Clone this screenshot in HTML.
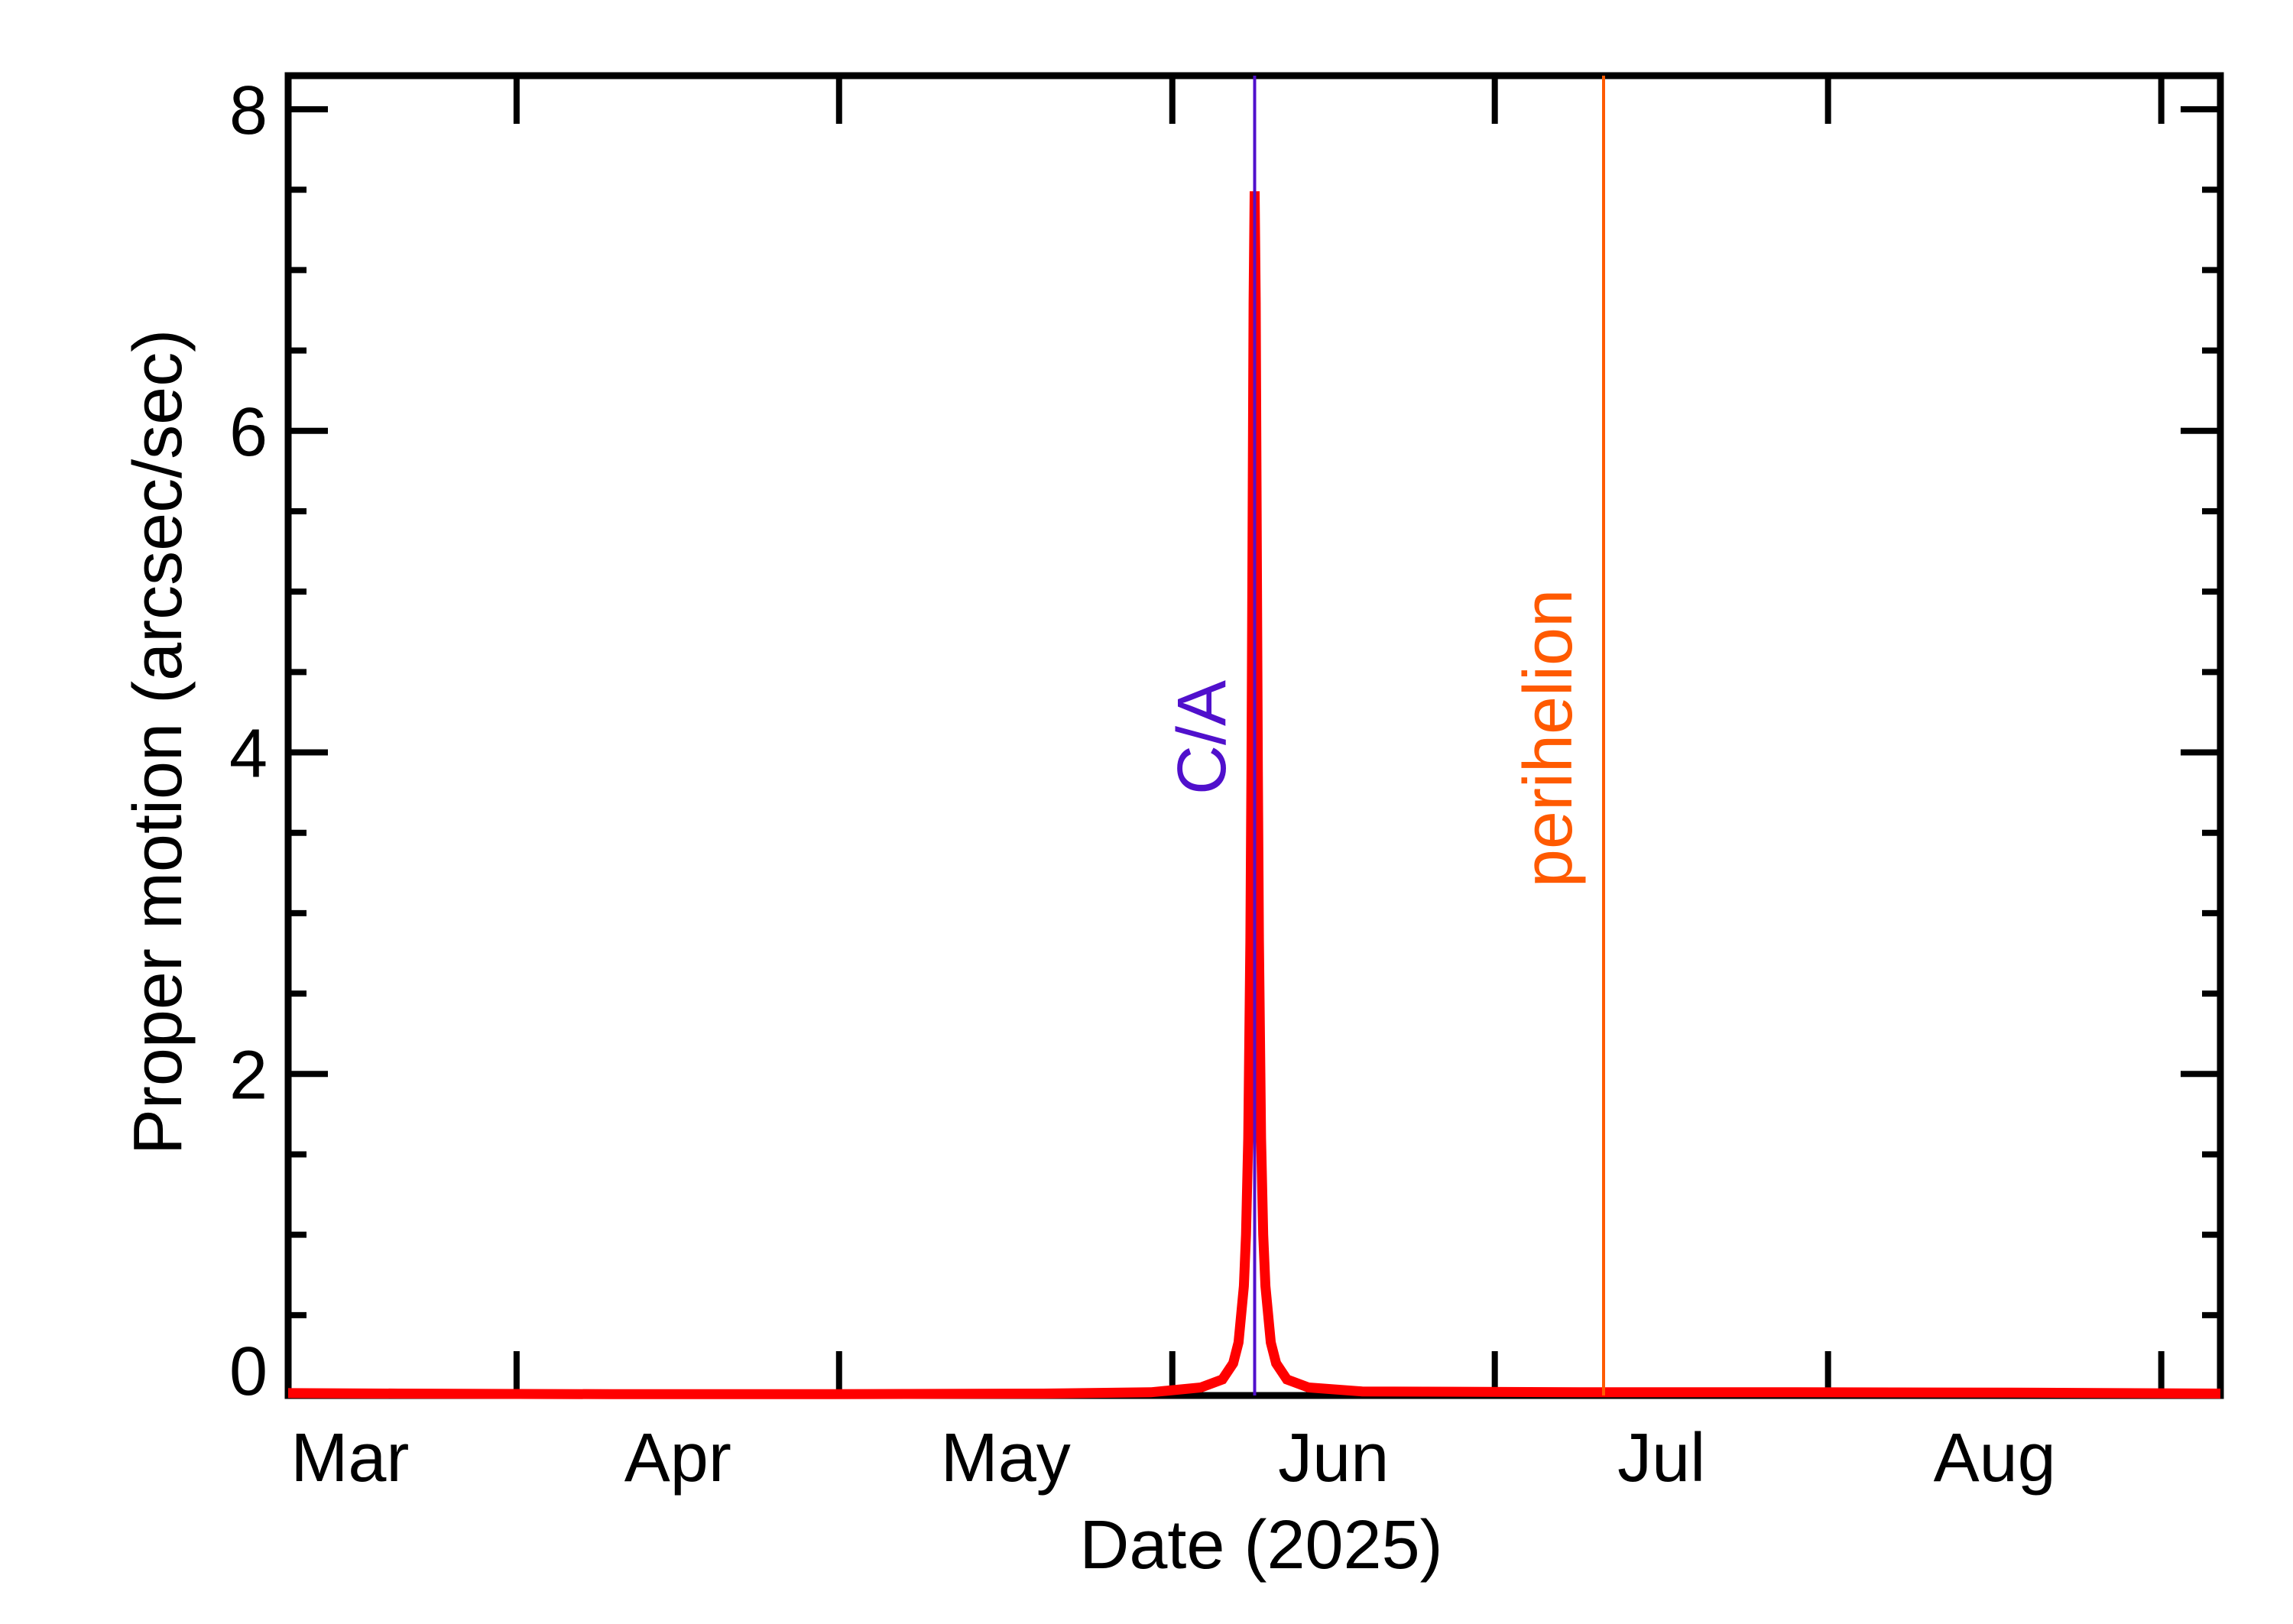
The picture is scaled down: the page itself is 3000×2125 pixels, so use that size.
<!DOCTYPE html>
<html><head><meta charset="utf-8"><style>
html,body{margin:0;padding:0;background:#fff;}
svg{display:block;font-family:"Liberation Sans",sans-serif;}
</style></head><body>
<svg id="chart" width="3000" height="2125" viewBox="0 0 3000 2125" xmlns="http://www.w3.org/2000/svg">
<rect width="3000" height="2125" fill="#fff"/>
<g id="axes"></g>
<g id="series"></g>
<g id="markers"></g>
<g id="labels"></g>
</svg>
<script>
// data (x in days since 2025-03-01 00:00)
const dayValues = [9.75, 20, 40, 60, 80, 90, 94.66, 96.66, 97.66, 98.16, 98.66, 98.86, 99.06, 99.26, 99.36, 99.46, 99.56, 99.66, 99.76, 99.86, 99.96, 100.06, 100.26, 100.46, 100.66, 101.16, 101.66, 102.66, 104.66, 109.66, 130, 150, 170, 189.5];
const motionValues = [0.015, 0.012, 0.008, 0.008, 0.012, 0.02, 0.05, 0.1, 0.2, 0.33, 0.68, 1.0, 1.6, 2.83, 3.89, 5.3, 6.8, 7.49, 6.8, 5.3, 3.89, 2.83, 1.6, 1.0, 0.68, 0.33, 0.2, 0.1, 0.05, 0.025, 0.02, 0.02, 0.018, 0.012];
const monthTickDays = [31, 61, 92, 122, 153, 184];
const monthLabels = ["Mar", "Apr", "May", "Jun", "Jul", "Aug"];
const monthLabelDays = [15.5, 46, 76.5, 107, 137.5, 168.5];
const yTickLabels = ["0", "2", "4", "6", "8"];
const yMajorValues = [0, 2, 4, 6, 8];
const closeApproachDay = [99.66];
const perihelionDay = [132.12];

const NS = "http://www.w3.org/2000/svg";
const L = 377, R = 2905, T = 99, B = 1826;
const xMin = 9.75, xMax = 189.5, yMin = 0, yPerUnit = (B - 143) / 8;
function xs(d){ return L + (d - xMin) * (R - L) / (xMax - xMin); }
function ys(v){ return B - (v - yMin) * yPerUnit; }
function mk(tag, attrs, parent){
  const e = document.createElementNS(NS, tag);
  for (const k in attrs) e.setAttribute(k, attrs[k]);
  parent.appendChild(e);
  return e;
}
const axes = document.getElementById('axes');
const series = document.getElementById('series');
const markers = document.getElementById('markers');
const labels = document.getElementById('labels');

// frame
const frame = mk('rect', {x: L, y: T, width: R - L, height: B - T, fill: 'none', stroke: '#000', 'stroke-width': 9}, axes);



// y ticks
for (let v = 0; v <= 8.001; v += 0.5) {
  const major = yMajorValues.includes(v);
  const len = major ? 52 : 24;
  const y = ys(v);
  const t1 = mk('line', {x1: L, x2: L + len, y1: y, y2: y, stroke: '#000', 'stroke-width': 8}, axes);
  
  
  const t2 = mk('line', {x1: R, x2: R - len, y1: y, y2: y, stroke: '#000', 'stroke-width': 8}, axes);
  
  
}
yMajorValues.forEach((v, i) => {
  const yy = v === 0 ? 1793 : ys(v);
  const t = mk('text', {x: 350, y: yy + 32, 'text-anchor': 'end', 'font-size': 90, fill: '#000'}, labels);
  t.textContent = yTickLabels[i];
  
  
});

// x ticks
monthTickDays.forEach(d => {
  const x = xs(d);
  const a = mk('line', {x1: x, x2: x, y1: B, y2: B - 58, stroke: '#000', 'stroke-width': 8}, axes);
  
  
  const b = mk('line', {x1: x, x2: x, y1: T, y2: T + 63, stroke: '#000', 'stroke-width': 8}, axes);
  
  
});
monthLabelDays.forEach((d, i) => {
  const t = mk('text', {x: xs(d), y: 1938, 'text-anchor': 'middle', 'font-size': 90, fill: '#000'}, labels);
  t.textContent = monthLabels[i];
  
  
});

// series
let pts = dayValues.map((d, i) => xs(d).toFixed(1) + ',' + ys(motionValues[i]).toFixed(1)).join(' ');
const line = mk('polyline', {points: pts, fill: 'none', stroke: '#ff0000', 'stroke-width': 13, 'stroke-linejoin': 'miter', 'stroke-miterlimit': 2}, series);



// markers
const ca = mk('line', {x1: xs(closeApproachDay[0]), x2: xs(closeApproachDay[0]), y1: T, y2: B, stroke: '#5010cc', 'stroke-width': 4}, markers);


const ph = mk('line', {x1: xs(perihelionDay[0]), x2: xs(perihelionDay[0]), y1: T, y2: B, stroke: '#ff5a00', 'stroke-width': 4}, markers);



const caT = mk('text', {transform: 'translate(1603,965) rotate(-90)', 'text-anchor': 'middle', 'font-size': 90, fill: '#5010cc'}, labels);
caT.textContent = 'C/A';


const phT = mk('text', {transform: 'translate(2056,966) rotate(-90)', 'text-anchor': 'middle', 'font-size': 90, fill: '#ff5a00'}, labels);
phT.textContent = 'perihelion';



// titles
const xt = mk('text', {x: 1650, y: 2052, 'text-anchor': 'middle', 'font-size': 90, fill: '#000'}, labels);
xt.textContent = 'Date (2025)';


const yt = mk('text', {transform: 'translate(237,971) rotate(-90)', 'text-anchor': 'middle', 'font-size': 90, fill: '#000'}, labels);
yt.textContent = 'Proper motion (arcsec/sec)';


</script>
</body></html>
